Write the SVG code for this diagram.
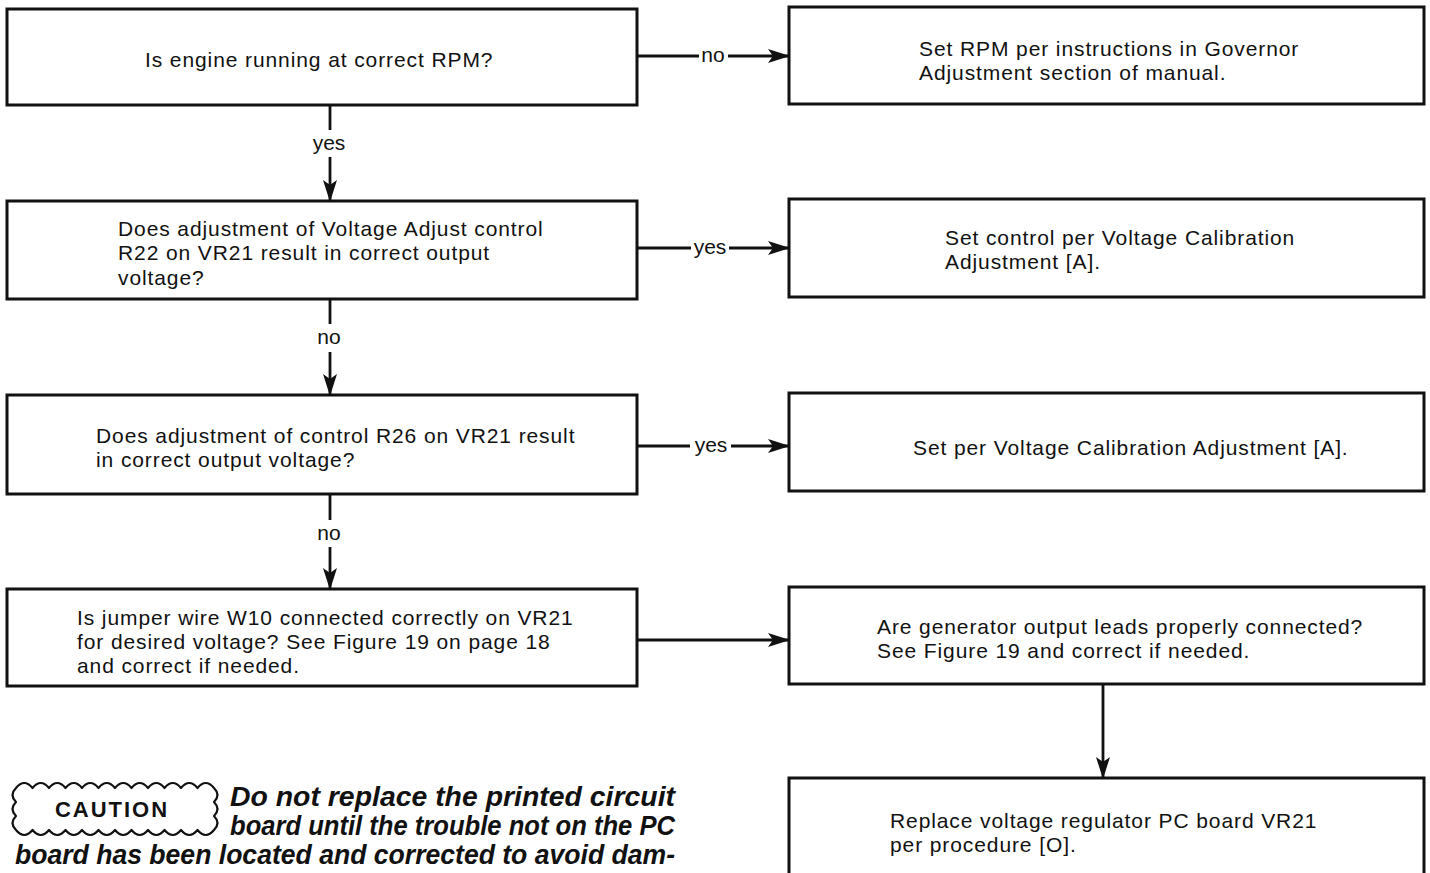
<svg xmlns="http://www.w3.org/2000/svg" width="1430" height="873" viewBox="0 0 1430 873">
<defs>
<marker id="ah" markerWidth="22" markerHeight="14" refX="21" refY="7" orient="auto" markerUnits="userSpaceOnUse">
<path d="M0,0 L22,7 L0,14 L5,7 Z" fill="#111"/>
</marker>
<style>
.box{fill:#fff;stroke:#111;stroke-width:3}
.t{font-family:"Liberation Sans",Arial,sans-serif;font-size:21px;letter-spacing:0.9px;fill:#111}
.lbl{font-family:"Liberation Sans",Arial,sans-serif;font-size:21px;fill:#111;text-anchor:middle}
.c{stroke:#111;stroke-width:2.8;fill:none}
.ca{font-family:"Liberation Sans",Arial,sans-serif;font-weight:bold;font-style:italic;font-size:27px;fill:#111}
</style>
</defs>
<rect width="1430" height="873" fill="#fff"/>
<g id="n1"><rect class="box" x="7" y="9" width="630" height="96"/><text class="t" x="145" y="67">Is engine running at correct RPM?</text></g>
<g id="n2"><rect class="box" x="7" y="201" width="630" height="98"/><text class="t" x="118" y="236">Does adjustment of Voltage Adjust control</text><text class="t" x="118" y="260">R22 on VR21 result in correct output</text><text class="t" x="118" y="285">voltage?</text></g>
<g id="n3"><rect class="box" x="7" y="395" width="630" height="99"/><text class="t" x="96" y="443">Does adjustment of control R26 on VR21 result</text><text class="t" x="96" y="467">in correct output voltage?</text></g>
<g id="n4"><rect class="box" x="7" y="589" width="630" height="97"/><text class="t" x="77" y="625">Is jumper wire W10 connected correctly on VR21</text><text class="t" x="77" y="649">for desired voltage? See Figure 19 on page 18</text><text class="t" x="77" y="673">and correct if needed.</text></g>
<g id="r1"><rect class="box" x="789" y="7" width="635" height="97"/><text class="t" x="919" y="56">Set RPM per instructions in Governor</text><text class="t" x="919" y="80">Adjustment section of manual.</text></g>
<g id="r2"><rect class="box" x="789" y="199" width="635" height="98"/><text class="t" x="945" y="245">Set control per Voltage Calibration</text><text class="t" x="945" y="269">Adjustment [A].</text></g>
<g id="r3"><rect class="box" x="789" y="393" width="635" height="98"/><text class="t" x="913" y="455">Set per Voltage Calibration Adjustment [A].</text></g>
<g id="r4"><rect class="box" x="789" y="587" width="635" height="97"/><text class="t" x="877" y="634">Are generator output leads properly connected?</text><text class="t" x="877" y="658">See Figure 19 and correct if needed.</text></g>
<g id="r5"><rect class="box" x="789" y="778" width="635" height="110"/><text class="t" x="890" y="828">Replace voltage regulator PC board VR21</text><text class="t" x="890" y="852">per procedure [O].</text></g>
<g id="connectors">
<line class="c" x1="637" y1="56" x2="699" y2="56"/><text class="lbl" x="713" y="62">no</text><line class="c" x1="728" y1="56" x2="789" y2="56" marker-end="url(#ah)"/>
<line class="c" x1="330" y1="105" x2="330" y2="130"/><text class="lbl" x="329" y="150">yes</text><line class="c" x1="330" y1="157" x2="330" y2="201" marker-end="url(#ah)"/>
<line class="c" x1="637" y1="248" x2="691" y2="248"/><text class="lbl" x="710" y="254">yes</text><line class="c" x1="729" y1="248" x2="789" y2="248" marker-end="url(#ah)"/>
<line class="c" x1="330" y1="299" x2="330" y2="324"/><text class="lbl" x="329" y="344">no</text><line class="c" x1="330" y1="352" x2="330" y2="395" marker-end="url(#ah)"/>
<line class="c" x1="637" y1="446" x2="690" y2="446"/><text class="lbl" x="711" y="452">yes</text><line class="c" x1="731" y1="446" x2="789" y2="446" marker-end="url(#ah)"/>
<line class="c" x1="330" y1="494" x2="330" y2="520"/><text class="lbl" x="329" y="540">no</text><line class="c" x1="330" y1="547" x2="330" y2="589" marker-end="url(#ah)"/>
<line class="c" x1="637" y1="640" x2="789" y2="640" marker-end="url(#ah)"/>
<line class="c" x1="1103" y1="684" x2="1103" y2="778" marker-end="url(#ah)"/>
</g>
<g id="caution">
<path d="M16,788 q8.25,-10 16.5,0 q8.25,-10 16.5,0 q8.25,-10 16.5,0 q8.25,-10 16.5,0 q8.25,-10 16.5,0 q8.25,-10 16.5,0 q8.25,-10 16.5,0 q8.25,-10 16.5,0 q8.25,-10 16.5,0 q8.25,-10 16.5,0 q8.25,-10 16.5,0 q8.25,-10 16.5,0 q7,7 0,14 q7,7 0,14 q7,7 0,14 q-8.25,10 -16.5,0 q-8.25,10 -16.5,0 q-8.25,10 -16.5,0 q-8.25,10 -16.5,0 q-8.25,10 -16.5,0 q-8.25,10 -16.5,0 q-8.25,10 -16.5,0 q-8.25,10 -16.5,0 q-8.25,10 -16.5,0 q-8.25,10 -16.5,0 q-8.25,10 -16.5,0 q-8.25,10 -16.5,0 q-7,-7 0,-14 q-7,-7 0,-14 q-7,-7 0,-14 Z" fill="none" stroke="#111" stroke-width="2.2" stroke-linejoin="round"/>
<text x="112" y="817" text-anchor="middle" font-family="Liberation Sans,Arial,sans-serif" font-weight="bold" font-size="22" letter-spacing="2" fill="#111">CAUTION</text>
<text class="ca" x="230" y="806" textLength="445" lengthAdjust="spacingAndGlyphs">Do not replace the printed circuit</text>
<text class="ca" x="230" y="835" textLength="445" lengthAdjust="spacingAndGlyphs">board until the trouble not on the PC</text>
<text class="ca" x="15" y="864" textLength="660" lengthAdjust="spacingAndGlyphs">board has been located and corrected to avoid dam-</text>
</g>
</svg>
